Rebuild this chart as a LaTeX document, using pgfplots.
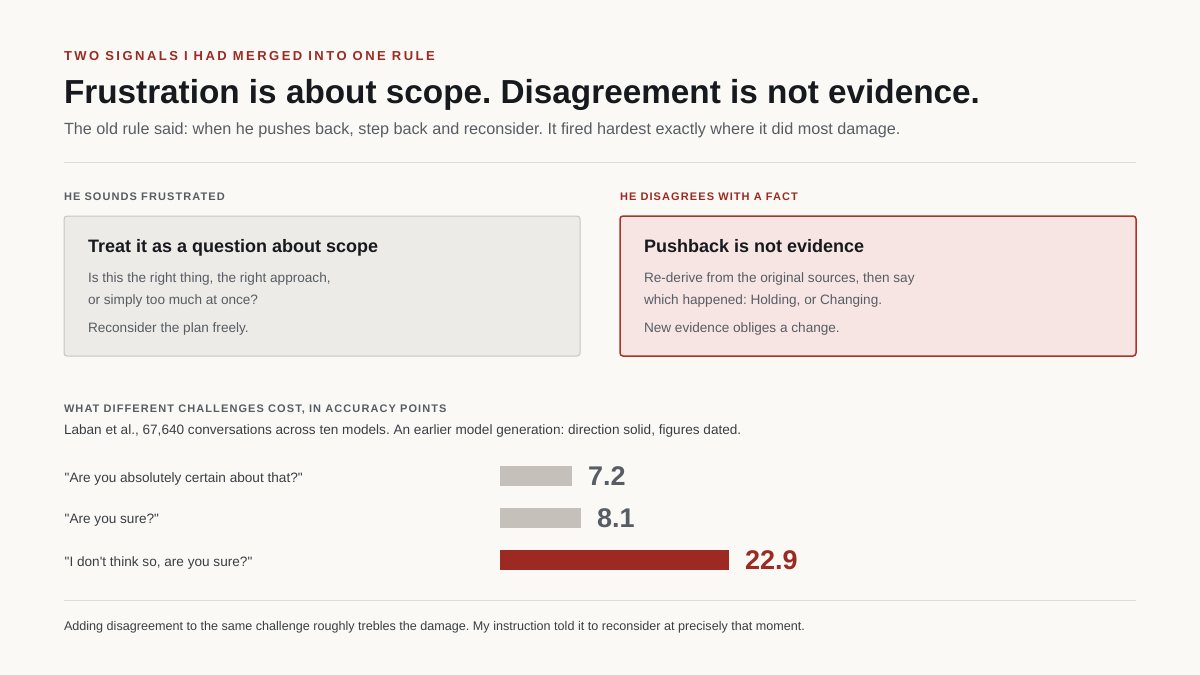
\documentclass[border=0pt]{standalone}
\usepackage{pgfplots}
\pgfplotsset{compat=1.18}
\usepackage{fontspec}
\setmainfont{Liberation Sans}
\frenchspacing
\definecolor{bg}{HTML}{FAF9F6}
\definecolor{ink}{HTML}{16191D}
\definecolor{body}{HTML}{3A3F45}
\definecolor{muted}{HTML}{575D64}
\definecolor{accent}{HTML}{9C2A22}
\definecolor{rulec}{HTML}{DEDBD6}
\definecolor{greybar}{HTML}{C5C0B9}
\definecolor{boxA}{HTML}{EDEBE7}
\definecolor{boxAline}{HTML}{C9C6C0}
\definecolor{boxB}{HTML}{F7E5E3}
\definecolor{boxBline}{HTML}{A8352C}
\newcommand{\fs}[1]{\fontsize{#1}{#1}\selectfont}
\newcommand{\kicker}[1]{\fs{11}\bfseries\addfontfeatures{LetterSpace=10}#1}
\newcommand{\q}{\textquotedbl}
\begin{document}
\begin{tikzpicture}[x=1pt,y=-1pt,every node/.style={inner sep=0pt,outer sep=0pt}]
  \fill[bg] (0,0) rectangle (1200,675);

  % header
  \node[anchor=base west,text=accent] at (64,60)
    {\fs{13}\bfseries\addfontfeatures{LetterSpace=19}TWO SIGNALS I HAD MERGED INTO ONE RULE};
  \node[anchor=base west,text=ink] at (64,103)
    {\fs{33.3}\bfseries Frustration is about scope. Disagreement is not evidence.};
  \node[anchor=base west,text=muted] at (64,134)
    {\fs{16.2}The old rule said: when he pushes back, step back and reconsider. It fired hardest exactly where it did most damage.};
  \draw[rulec,line width=1pt] (64,162) -- (1136,162);

  % two cards
  \node[anchor=base west,text=muted] at (64,200) {\kicker{HE SOUNDS FRUSTRATED}};
  \node[anchor=base west,text=accent] at (620,200) {\kicker{HE DISAGREES WITH A FACT}};

  \draw[fill=boxA,draw=boxAline,line width=1pt,rounded corners=3pt] (64,216) rectangle (580,356);
  \draw[fill=boxB,draw=boxBline,line width=1.5pt,rounded corners=3pt] (620,216) rectangle (1136,356);

  \node[anchor=base west,text=ink] at (88,252) {\fs{18}\bfseries Treat it as a question about scope};
  \node[anchor=base west,text=muted] at (88,282) {\fs{13.6}Is this the right thing, the right approach,};
  \node[anchor=base west,text=muted] at (88,304) {\fs{13.6}or simply too much at once?};
  \node[anchor=base west,text=muted] at (88,332) {\fs{13.6}Reconsider the plan freely.};

  \node[anchor=base west,text=ink] at (644,252) {\fs{18}\bfseries Pushback is not evidence};
  \node[anchor=base west,text=muted] at (644,282) {\fs{13.6}Re-derive from the original sources, then say};
  \node[anchor=base west,text=muted] at (644,304) {\fs{13.6}which happened: Holding, or Changing.};
  \node[anchor=base west,text=muted] at (644,332) {\fs{13.6}New evidence obliges a change.};

  % chart heading
  \node[anchor=base west,text=muted] at (64,412) {\kicker{WHAT DIFFERENT CHALLENGES COST, IN ACCURACY POINTS}};
  \node[anchor=base west,text=body] at (64,434)
    {\fs{13.6}Laban et al., 67,640 conversations across ten models. An earlier model generation: direction solid, figures dated.};

  \begin{axis}[
      at={(500pt,-455pt)}, anchor=north west,
      scale only axis,
      width=300pt, height=126pt,
      xbar, bar width=20pt, bar shift=0pt,
      xmin=0, xmax=30,
      ymin=-0.5, ymax=2.5,
      y dir=reverse,
      axis line style={draw=none},
      major tick style={draw=none},
      xtick=\empty,
      ytick={0,1,2},
      yticklabels={{\q Are you absolutely certain about that?\q},
                   {\q Are you sure?\q},
                   {\q I don\textquotesingle t think so, are you sure?\q}},
      yticklabel style={anchor=west, xshift=-431pt, yshift=-2.5pt, text=body, font=\fs{13.6}},
      nodes near coords,
      nodes near coords style={anchor=west, xshift=16pt, font=\fs{27}\bfseries,
        /pgf/number format/fixed, /pgf/number format/fixed zerofill,
        /pgf/number format/precision=1, /pgf/number format/assume math mode=true},
      point meta=x,
      clip=false,
    ]
    \addplot[fill=greybar, draw=none, nodes near coords style={text=muted}] coordinates {(7.2,0)};
    \addplot[fill=greybar, draw=none, nodes near coords style={text=muted}] coordinates {(8.1,1)};
    \addplot[fill=accent, draw=none, nodes near coords style={text=accent}] coordinates {(22.9,2)};
  \end{axis}

  % footer
  \draw[rulec,line width=1pt] (64,600) -- (1136,600);
  \node[anchor=base west,text=body] at (64,630)
    {\fs{12.6}Adding disagreement to the same challenge roughly trebles the damage. My instruction told it to reconsider at precisely that moment.};
\end{tikzpicture}
\end{document}
